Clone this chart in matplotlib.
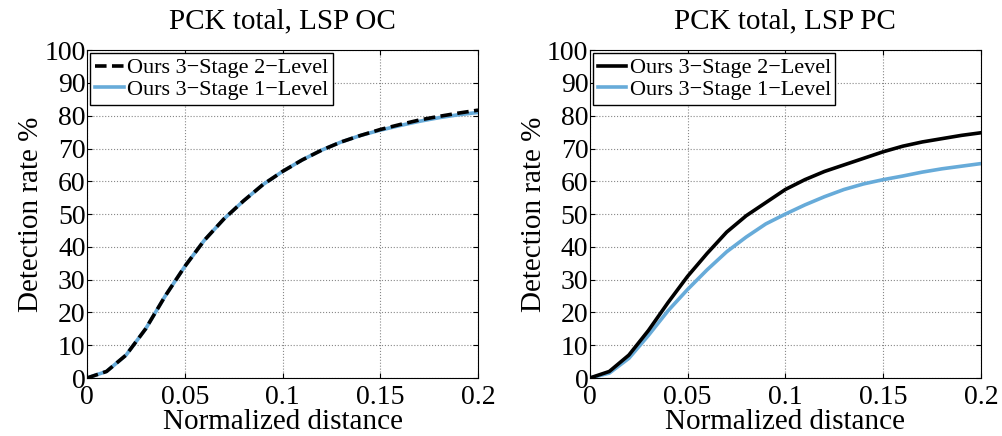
import matplotlib.pyplot as plt
import numpy as np

plt.rcParams['font.family'] = ['Liberation Serif', 'DejaVu Serif']

# normalized distance thresholds
dist = np.linspace(0, 0.2, 21)

# PCK total, LSP OC
oc_2level = [0, 2, 7, 15, 25, 34, 42, 48.5, 54, 59, 63, 66.5, 69.5, 72, 74, 75.8, 77.3, 78.7, 79.8, 80.8, 81.7]
oc_1level = [0, 2, 7, 15, 25, 34, 42, 48.5, 54, 59, 63, 66.5, 69.5, 72, 74, 75.6, 77.0, 78.3, 79.4, 80.3, 81.0]

# PCK total, LSP PC
pc_2level = [0, 2, 7, 14.5, 23, 31, 38, 44.5, 49.5, 53.5, 57.5, 60.5, 63, 65, 67, 69, 70.7, 72, 73, 74, 74.8]
pc_1level = [0, 1.5, 6, 13, 20.5, 27, 33, 38.5, 43, 47, 50, 52.8, 55.3, 57.5, 59.2, 60.5, 61.6, 62.8, 63.8, 64.6, 65.4]

labels = ['Ours 3\u2212Stage 2\u2212Level', 'Ours 3\u2212Stage 1\u2212Level']
titles = ['PCK total, LSP OC', 'PCK total, LSP PC']
BLUE = '#67abd9'

fig = plt.figure(figsize=(10.03, 4.36), dpi=100)
ax1 = fig.add_axes([0.0867, 0.133, 0.390, 0.752])
ax2 = fig.add_axes([0.588, 0.133, 0.390, 0.752])

for ax, title, two, one, style in [(ax1, titles[0], oc_2level, oc_1level, 'dashed'),
                                   (ax2, titles[1], pc_2level, pc_1level, 'solid')]:
    l1, = ax.plot(dist, one, color=BLUE, lw=2.6, zorder=2)
    if style == 'dashed':
        l2, = ax.plot(dist, two, color='black', lw=2.6, dashes=(3.2, 1.5), zorder=3)
    else:
        l2, = ax.plot(dist, two, color='black', lw=2.6, zorder=3)
    ax.set_xlim(0, 0.2)
    ax.set_ylim(0, 100)
    ax.set_xticks([0, 0.05, 0.1, 0.15, 0.2])
    ax.set_xticklabels(['0', '0.05', '0.1', '0.15', '0.2'])
    ax.set_yticks(range(0, 101, 10))
    ax.tick_params(direction='in', labelsize=20, top=True, right=True)
    ax.tick_params(axis='y', pad=1)
    ax.tick_params(axis='x', pad=5)
    ax.grid(True, linestyle=':', color='#888888', lw=0.8)
    ax.set_title(title, fontsize=21, pad=16)
    ax.set_xlabel('Normalized distance', fontsize=21, labelpad=-1)
    ax.set_ylabel('Detection rate %', fontsize=21, labelpad=0)
    leg = ax.legend([l2, l1], labels, loc='upper left', fontsize=16, fancybox=False,
                    edgecolor='black', framealpha=1, handlelength=1.3, handletextpad=0.15,
                    borderpad=0.2, labelspacing=0.05, borderaxespad=0.15)
    leg.get_frame().set_linewidth(1.0)

fig.savefig('out.png', dpi=100)
